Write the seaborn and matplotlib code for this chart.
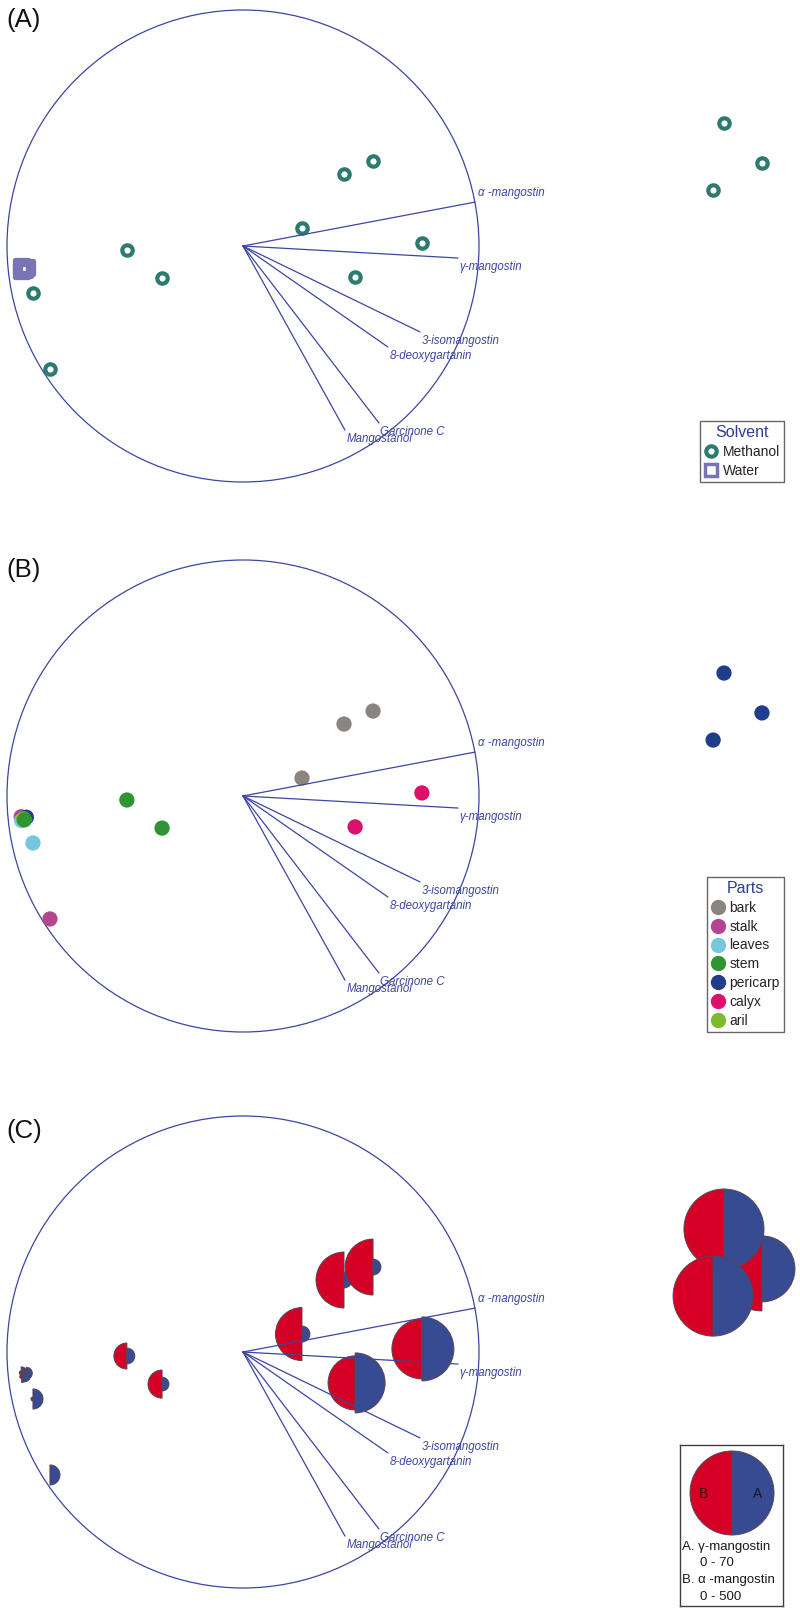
import numpy as np
import matplotlib
matplotlib.use("Agg")
import matplotlib.pyplot as plt
from matplotlib.patches import Circle, Wedge
from matplotlib.lines import Line2D
import pandas as pd
import seaborn as sns

# loadings (unit correlation circle)
load_names = ["α -mangostin", "γ-mangostin", "3-isomangostin", "8-deoxygartanin",
              "Garcinone C", "Mangostanol"]
load_x = [0.983, 0.911, 0.750, 0.614, 0.576, 0.432]
load_y = [0.186, -0.051, -0.364, -0.428, -0.750, -0.780]

# sample scores
score_x = [0.428, 0.551, 0.250, 0.758, 0.475, -0.492, -0.343, -0.890, -0.818,
           -0.940, -0.938, -0.918, -0.930, -0.926, 2.199, 2.038, 1.992]
score_y = [0.305, 0.360, 0.076, 0.013, -0.131, -0.017, -0.136, -0.199, -0.521,
           -0.088, -0.104, -0.090, -0.097, -0.101, 0.352, 0.521, 0.237]
solvent = ["Methanol"] * 9 + ["Water"] * 5 + ["Methanol"] * 3
part = ["bark", "bark", "bark", "calyx", "calyx", "stem", "stem", "leaves", "stalk",
        "stalk", "leaves", "pericarp", "aril", "stem",
        "pericarp", "pericarp", "pericarp"]
alpha_mg = [222, 222, 199, 255, 207, 48, 56, 1.1, 0, 1, 1, 1, 1, 1, 500, 454, 454]
gamma_mg = [2.5, 2.5, 2.5, 40.6, 35.7, 2.5, 1.9, 4.0, 4.0, 1.4, 1.4, 1.4, 1.4, 1.4,
            43.2, 63.5, 63.5]

solvents = ["Methanol", "Water"]
parts = ["bark", "stalk", "leaves", "stem", "pericarp", "calyx", "aril"]
part_colors = ["#8b8581", "#b3468f", "#74c7dc", "#2f9533", "#203d8c", "#de0f6b", "#7cbb2b"]
alpha_max, gamma_max = 500, 70

df = pd.DataFrame({"x": score_x, "y": score_y, "solvent": solvent, "part": part,
                   "alpha": alpha_mg, "gamma": gamma_mg})

sns.set_style("white")
plt.rcParams["font.family"] = ["Liberation Sans", "DejaVu Sans"]

W, H = 800, 1612
R = 236.0          # circle radius in px
CX, CY = 243, 246  # circle centre inside a panel, px
NAVY = "#3d46a0"
TEAL = "#2d7a70"
LAV = "#7874b6"
RED = "#d50026"
BLUE = "#374b92"
RMAX = 42.0        # glyph radius for max value, px

fig = plt.figure(figsize=(W / 100, H / 100), dpi=100)

panels = [("(A)", 0, 550, 20), ("(B)", 550, 556, 20), ("(C)", 1106, 506, 25)]
axes = []
for letter, top, h, ly in panels:
    ax = fig.add_axes([0, 1 - (top + h) / H, 1, h / H])
    ax.set_xlim(-CX / R, (W - CX) / R)
    ax.set_ylim(-(h - CY) / R, CY / R)
    ax.set_axis_off()
    ax.add_patch(Circle((0, 0), 1, fill=False, ec=NAVY, lw=0.9, zorder=1))
    for name, lx, lyy in zip(load_names, load_x, load_y):
        ax.plot([0, lx], [0, lyy], color=NAVY, lw=0.9, zorder=5)
        if lyy > 0:
            ax.annotate(name, (lx, lyy), xytext=(2, 2), textcoords="offset points",
                        ha="left", va="bottom", fontsize=8.3, style="italic", color=NAVY)
        else:
            ax.annotate(name, (lx, lyy), xytext=(1, -2), textcoords="offset points",
                        ha="left", va="top", fontsize=8.3, style="italic", color=NAVY)
    fig.text(6 / W, 1 - (top + ly) / H, letter, fontsize=18.5, va="center", ha="left",
             color="#111111")
    axes.append(ax)

# (A) solvent
ax = axes[0]
sns.scatterplot(data=df[df.solvent == "Water"], x="x", y="y", marker="s", s=90,
                facecolor="none", edgecolor=LAV, linewidth=3.8, legend=False, ax=ax, zorder=3)
sns.scatterplot(data=df[df.solvent == "Methanol"], x="x", y="y", marker="o", s=56,
                facecolor="white", edgecolor=TEAL, linewidth=3, legend=False, ax=ax, zorder=3)
handles = [Line2D([], [], marker="o", ls="", mfc="white", mec=TEAL, ms=7.5, mew=3),
           Line2D([], [], marker="s", ls="", mfc="white", mec=LAV, ms=8.5, mew=2.5)]
leg = ax.legend(handles, solvents, title="Solvent", loc="lower right",
                bbox_to_anchor=(784 / W, 1 - 482 / H), bbox_transform=fig.transFigure,
                borderaxespad=0, fancybox=False, edgecolor="#404040", fontsize=10,
                title_fontsize=11.5, handlelength=0.9, handletextpad=0.4,
                labelspacing=0.35, borderpad=0.3, labelcolor="#2b2222")
leg.get_title().set_color("#2e3f91")
leg.get_frame().set_linewidth(1)

# (B) parts
ax = axes[1]
sns.scatterplot(data=df, x="x", y="y", hue="part", hue_order=parts, palette=part_colors,
                s=121, linewidth=0, legend=False, ax=ax, zorder=3)
handles = [Line2D([], [], marker="o", ls="", mfc=c, mec=c, ms=10) for c in part_colors]
leg = ax.legend(handles, parts, title="Parts", loc="lower right",
                bbox_to_anchor=(784 / W, 1 - 1032 / H), bbox_transform=fig.transFigure,
                borderaxespad=0, fancybox=False, edgecolor="#404040", fontsize=10,
                title_fontsize=11.5, handlelength=0.9, handletextpad=0.4,
                labelspacing=0.35, borderpad=0.3, labelcolor="#2b2222")
leg.get_title().set_color("#2e3f91")
leg.get_frame().set_linewidth(1)

# (C) pie glyphs
ax = axes[2]
for i, row in df.iterrows():
    ra = RMAX / R * np.sqrt(row.alpha / alpha_max)
    rg = RMAX / R * np.sqrt(row.gamma / gamma_max)
    if ra > 0:
        ax.add_patch(Wedge((row.x, row.y), ra, 90, 270, fc=RED, ec="#5a4450",
                           lw=0.7, zorder=3 + i * 0.01))
    if rg > 0:
        ax.add_patch(Wedge((row.x, row.y), rg, -90, 90, fc=BLUE, ec="#5a4450",
                           lw=0.7, zorder=3 + i * 0.01))

# glyph legend
lx0, ly0, lw_, lh_ = 680, 1445, 103, 161
lax = fig.add_axes([lx0 / W, 1 - (ly0 + lh_) / H, lw_ / W, lh_ / H])
lax.set_xlim(0, lw_)
lax.set_ylim(lh_, 0)
lax.set_xticks([])
lax.set_yticks([])
for sp in lax.spines.values():
    sp.set_color("#404040")
    sp.set_linewidth(1)
lax.add_patch(Wedge((52, 48), RMAX, 90, 270, fc=RED, ec="#5a4450", lw=0.7))
lax.add_patch(Wedge((52, 48), RMAX, -90, 90, fc=BLUE, ec="#5a4450", lw=0.7))
lax.text(23, 49, "B", ha="center", va="center", fontsize=10, color="#3a0a10")
lax.text(78, 49, "A", ha="center", va="center", fontsize=10, color="#10142e")
lax.text(2, 102, "A. γ-mangostin", ha="left", va="center", fontsize=9.5, color="#1a1a1a")
lax.text(20, 118, f"0 - {gamma_max}", ha="left", va="center", fontsize=9.5, color="#1a1a1a")
lax.text(2, 135, "B. α -mangostin", ha="left", va="center", fontsize=9.5, color="#1a1a1a")
lax.text(20, 152, f"0 - {alpha_max}", ha="left", va="center", fontsize=9.5, color="#1a1a1a")

fig.savefig("out.png", dpi=100)
